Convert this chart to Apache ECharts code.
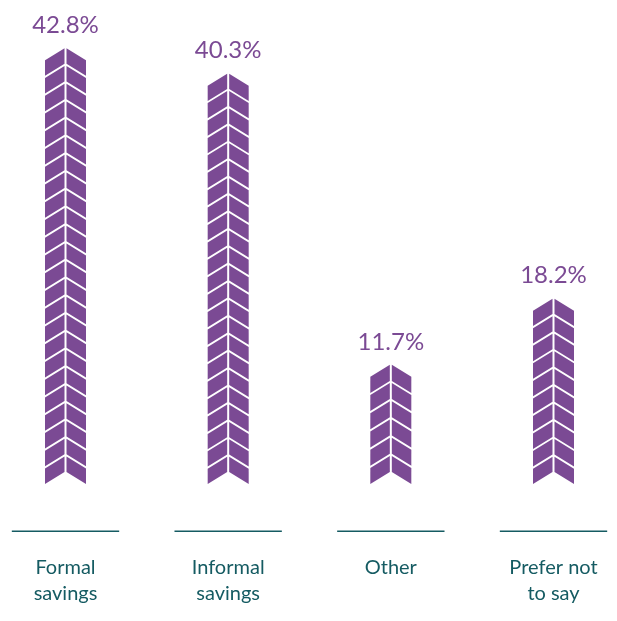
<!DOCTYPE html>
<html>
<head>
<meta charset="utf-8">
<script src="https://cdn.jsdelivr.net/npm/echarts@6/dist/echarts.min.js"></script>
<style>
  html, body { margin: 0; padding: 0; background: #ffffff; }
  #chart { width: 617px; height: 621px; }
</style>
</head>
<body>
<div id="chart"></div>
<script>
// Share of respondents by type of savings (%)
const categories = ['Formal\nsavings', 'Informal\nsavings', 'Other', 'Prefer not\nto say'];
const shares = [42.8, 40.3, 11.7, 18.2];

const PURPLE = '#7b4a94';
const TEAL = '#155b62';
const FONT = 'Lato, "Noto Sans", sans-serif';

// Chevron stack geometry (pixels)
const NOTCH = 12;       // rise of the chevron tip above its sides
const GAP = 2.2;        // white gap between stacked chevrons
const HALF_W = 20.5;    // half width of a chevron
const CENTER_GAP = 1;   // half of the white spine down the middle
const PITCH = 17.6;     // nominal step between chevrons

function renderChevrons(params, api) {
  const idx = api.value(0);
  const v = api.value(1);
  const base = api.coord([idx, 0]);
  const top = api.coord([idx, v]);
  const cx = base[0];
  const len = base[1] - top[1];
  const n = Math.max(1, Math.round((len - NOTCH + GAP) / PITCH));
  const p = (len - NOTCH + GAP) / n;
  const t = p - GAP;
  const style = { fill: PURPLE };
  const children = [];
  for (let k = 0; k < n; k++) {
    const yb = base[1] - k * p;
    children.push({
      type: 'polygon',
      shape: { points: [
        [cx - HALF_W, yb], [cx - CENTER_GAP, yb - NOTCH],
        [cx - CENTER_GAP, yb - NOTCH - t], [cx - HALF_W, yb - t]
      ] },
      style: style
    });
    children.push({
      type: 'polygon',
      shape: { points: [
        [cx + HALF_W, yb], [cx + CENTER_GAP, yb - NOTCH],
        [cx + CENTER_GAP, yb - NOTCH - t], [cx + HALF_W, yb - t]
      ] },
      style: style
    });
  }
  // rule under each category, above its label
  const stepW = api.size([1, 0])[0];
  const ruleW = stepW * 0.66;
  children.push({
    type: 'rect',
    shape: { x: cx - ruleW / 2, y: base[1] + 46.5, width: ruleW, height: 1.5 },
    style: { fill: TEAL }
  });
  return { type: 'group', children: children };
}

const chart = echarts.init(document.getElementById('chart'), null, { renderer: 'canvas' });
chart.setOption({
  animation: false,
  backgroundColor: '#ffffff',
  grid: { left: 65.5, right: 63.5, top: 36, bottom: 137 },
  xAxis: {
    type: 'category',
    data: categories,
    boundaryGap: false,
    axisLine: { show: false },
    axisTick: { show: false },
    splitLine: { show: false },
    axisLabel: {
      margin: 71,
      color: TEAL,
      fontFamily: FONT,
      fontSize: 20,
      lineHeight: 26,
      interval: 0
    }
  },
  yAxis: {
    type: 'value',
    min: 0,
    max: 44,
    show: false,
    splitLine: { show: false }
  },
  series: [
    {
      type: 'custom',
      renderItem: renderChevrons,
      data: shares.map((v, i) => [i, v]),
      encode: { x: 0, y: 1 },
      z: 2
    },
    {
      // invisible bars carrying the value labels
      type: 'bar',
      data: shares,
      barWidth: 41,
      itemStyle: { color: 'rgba(0,0,0,0)' },
      label: {
        show: true,
        position: 'top',
        distance: 11,
        formatter: '{c}%',
        color: PURPLE,
        fontFamily: FONT,
        fontSize: 24
      },
      silent: true,
      z: 3
    }
  ]
});
</script>
</body>
</html>
